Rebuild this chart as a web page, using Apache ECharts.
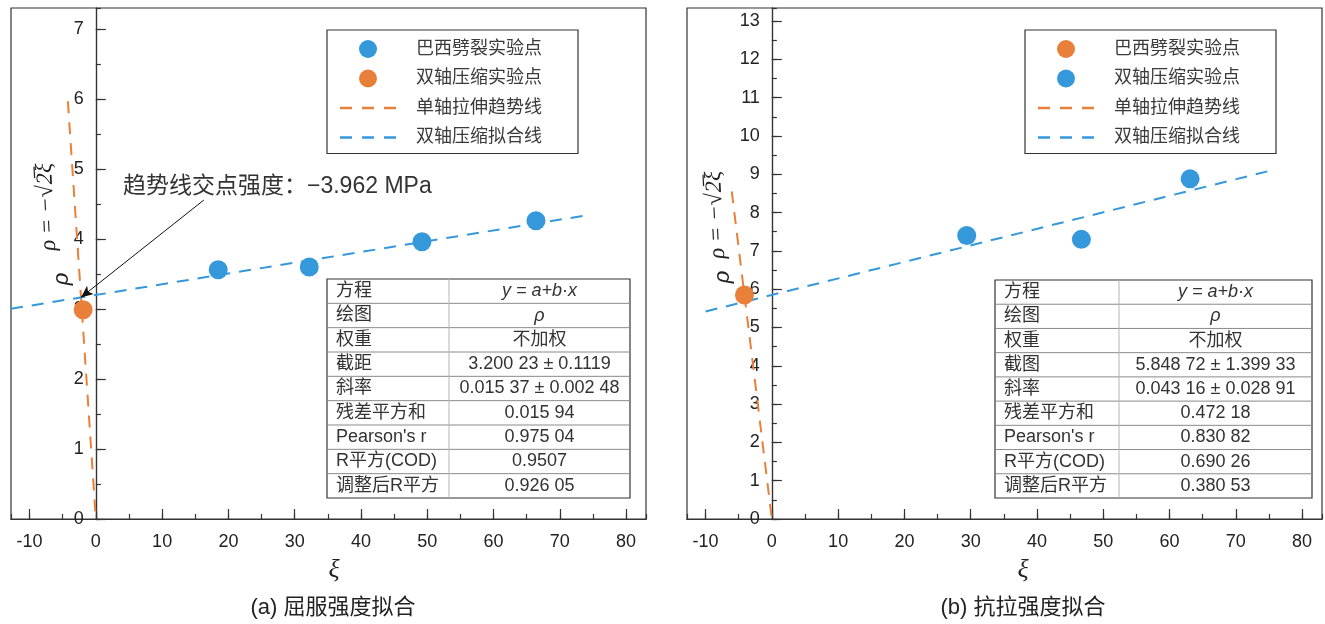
<!DOCTYPE html>
<html>
<head>
<meta charset="utf-8">
<script src="https://cdn.jsdelivr.net/npm/echarts@6/dist/echarts.min.js"></script>
<style>
  html, body { margin: 0; padding: 0; background: #fff; }
  #chart { width: 1325px; height: 624px; }
</style>
</head>
<body>
<div id="chart"></div>
<script>
// ---------- panel (a): yield strength ----------
const brazilA = [[18.46, 3.56], [32.2, 3.60], [49.2, 3.96], [66.4, 4.26]];
const biaxA = [[-1.92, 2.99]];
const fitA = { a: 3.20023, b: 0.01537 };          // intercept, slope of the biaxial fit
const fitRangeA = [-12.8, 73.5];
const trendRangeA = [-4.22, 0];
const arrowStartA = [16.3, 4.557];
const noteA = '趋势线交点强度：−3.962 MPa';

// ---------- panel (b): tensile strength ----------
const brazilB = [[-4.13, 5.85]];
const biaxB = [[29.4, 7.40], [46.7, 7.30], [63.1, 8.88]];
const fitB = { a: 5.84872, b: 0.04316 };
const fitRangeB = [-10, 75];
const trendRangeB = [-6.05, 0];

// ---------- axes ----------
const xRange = [-12.8, 83];
const yRangeA = [0, 7.3];
const yRangeB = [0, 13.34];

// ---------- legend / tables / captions ----------
const legendNames = ['巴西劈裂实验点', '双轴压缩实验点', '单轴拉伸趋势线', '双轴压缩拟合线'];
const tableLabelsA = ['方程', '绘图', '权重', '截距', '斜率', '残差平方和', "Pearson's r", 'R平方(COD)', '调整后R平方'];
const tableValuesA = ['y = a+b·x', 'ρ', '不加权', '3.200 23 ± 0.1119', '0.015 37 ± 0.002 48', '0.015 94', '0.975 04', '0.9507', '0.926 05'];
const tableLabelsB = ['方程', '绘图', '权重', '截图', '斜率', '残差平方和', "Pearson's r", 'R平方(COD)', '调整后R平方'];
const tableValuesB = ['y = a+b·x', 'ρ', '不加权', '5.848 72 ± 1.399 33', '0.043 16 ± 0.028 91', '0.472 18', '0.830 82', '0.690 26', '0.380 53'];
const captions = ['(a) 屈服强度拟合', '(b) 抗拉强度拟合'];
const axisNameX = 'ξ';
const axisNameY = 'ρ';
const trendLabel = 'ρ = −√2̅ξ';

const BLUE = '#3498db';
const ORANGE = '#e8803a';
const AXIS = '#333';
const FONT = "'Liberation Sans', Arial, 'Noto Sans CJK SC', sans-serif";
const SERIF = "'Liberation Serif', 'DejaVu Serif', serif";
// three-dash glyph used as the legend icon of the dashed lines
const DASH_ICON = 'path://M0,0h12v2.4h-12z M22,0h12v2.4h-12z M44,0h12v2.4h-12z';

const fitLine = (fit, range) => range.map(x => [x, fit.a + fit.b * x]);
const trendLine = range => range.map(x => [x, -Math.SQRT2 * x]);
// crossing point of the uniaxial trend line and the biaxial fit
const crossing = fit => { const x = -fit.a / (fit.b + Math.SQRT2); return [x, fit.a + fit.b * x]; };

const chart = echarts.init(document.getElementById('chart'));

const plotGrid = left => ({ left, top: 8, width: 635, height: 511, show: true, borderColor: AXIS, borderWidth: 1.2,
                            containLabel: false, outerBoundsMode: 'none' });
// narrow grid whose left edge sits on the ξ = 0 line; it carries the ρ scale
const rulerGrid = left => ({ left, top: 8, width: 10, height: 511, show: false, containLabel: false, outerBoundsMode: 'none' });

function xAxes(gridIndex) {
  const base = {
    type: 'value', gridIndex, min: xRange[0], max: xRange[1], position: 'bottom',
    axisLine: { onZero: false, lineStyle: { color: AXIS, width: 1.2 } },
    splitLine: { show: false }
  };
  return [
    Object.assign({}, base, {
      splitNumber: 9,
      axisTick: { inside: true, length: 10, lineStyle: { color: AXIS, width: 1.2 } },
      axisLabel: { color: '#222', fontSize: 18, fontFamily: FONT, margin: 14, showMinLabel: false, showMaxLabel: false }
    }),
    Object.assign({}, base, {
      splitNumber: 19,
      axisTick: { inside: true, length: 5, lineStyle: { color: AXIS, width: 1.2 } },
      axisLabel: { show: false }
    })
  ];
}

const hiddenX = gridIndex => ({ type: 'value', gridIndex, min: 0, max: 1, show: false });
const dataY = (gridIndex, range) => ({ type: 'value', gridIndex, min: range[0], max: range[1], show: false });

function rulerY(gridIndex, range) {
  const base = {
    type: 'value', gridIndex, min: range[0], max: range[1], position: 'left',
    axisLine: { onZero: false, lineStyle: { color: AXIS, width: 1.2 } },
    splitLine: { show: false }
  };
  return [
    Object.assign({}, base, {
      interval: 1,
      axisTick: { inside: true, length: 10, lineStyle: { color: AXIS, width: 1.2 } },
      axisLabel: { color: '#222', fontSize: 18, fontFamily: FONT, margin: 12, showMaxLabel: false }
    }),
    Object.assign({}, base, {
      interval: 0.5,
      axisTick: { inside: true, length: 5, lineStyle: { color: AXIS, width: 1.2 } },
      axisLabel: { show: false }
    })
  ];
}

function scatter(name, data, color, xi, yi) {
  return {
    type: 'scatter', name, data, xAxisIndex: xi, yAxisIndex: yi, z: 4,
    symbol: 'circle', symbolSize: 19, itemStyle: { color, opacity: 1 }, silent: true
  };
}

function dashed(name, data, color, xi, yi, extra) {
  return Object.assign({
    type: 'line', name, data, xAxisIndex: xi, yAxisIndex: yi, z: 3,
    symbol: 'none', showSymbol: false, silent: true,
    lineStyle: { color, width: 2, type: [12, 9] }, itemStyle: { color }
  }, extra || {});
}

function legend(left, colors) {
  return {
    left, top: 30, orient: 'vertical', selectedMode: false,
    itemWidth: 56, itemHeight: 18, itemGap: 11.5,
    padding: [10, 36, 7, 13],
    borderColor: AXIS, borderWidth: 1.2, backgroundColor: '#fff',
    textStyle: { fontSize: 18, color: '#3a3a3a', fontFamily: FONT, padding: [0, 0, 0, 15] },
    data: legendNames.map((name, i) => ({
      name,
      icon: i < 2 ? 'circle' : DASH_ICON,
      itemStyle: { color: colors[i], borderWidth: 0 }
    }))
  };
}

function table(x0, xDiv, x1, y0, y1, labels, values) {
  const els = [];
  const rh = (y1 - y0) / labels.length;
  els.push({ type: 'rect', shape: { x: x0, y: y0, width: x1 - x0, height: y1 - y0 },
             style: { fill: '#fff', stroke: AXIS, lineWidth: 1.2 }, z: 10 });
  for (let i = 1; i < labels.length; i++) {
    els.push({ type: 'line', shape: { x1: x0, y1: y0 + i * rh, x2: x1, y2: y0 + i * rh },
               style: { stroke: '#8a8a8a', lineWidth: 1 }, z: 11 });
  }
  els.push({ type: 'line', shape: { x1: xDiv, y1: y0, x2: xDiv, y2: y1 },
             style: { stroke: '#b5b5b5', lineWidth: 1 }, z: 11 });
  labels.forEach((t, i) => {
    const cy = y0 + (i + 0.5) * rh;
    els.push({ type: 'text', x: x0 + 9, y: cy, z: 12,
               style: { text: t, font: '18px ' + FONT, fill: '#333', verticalAlign: 'middle' } });
    const italic = i < 2;
    els.push({ type: 'text', x: (xDiv + x1) / 2, y: cy, z: 12,
               style: { text: values[i], font: (italic ? 'italic ' : '') + '18px ' + FONT, fill: '#333',
                        align: 'center', verticalAlign: 'middle' } });
  });
  return els;
}

function text(x, y, t, font, extra) {
  return Object.assign({ type: 'text', x, y, z: 12,
    style: { text: t, font, fill: '#222', align: 'center', verticalAlign: 'middle' } }, extra || {});
}

const graphics = []
  .concat(table(327, 449, 630, 279, 498, tableLabelsA, tableValuesA))
  .concat(table(995, 1119, 1312, 280, 498, tableLabelsB, tableValuesB))
  .concat([
    text(62, 279, axisNameY, 'italic 22px ' + FONT, { rotation: Math.PI / 2 }),
    text(723, 277, axisNameY, 'italic 22px ' + FONT, { rotation: Math.PI / 2 }),
    text(47, 207, trendLabel, 'italic 23px ' + SERIF, { rotation: Math.PI / 2 + 0.05 }),
    text(716, 215, trendLabel, 'italic 23px ' + SERIF, { rotation: Math.PI / 2 + 0.05 }),
    text(334, 570, axisNameX, 'italic 26px ' + SERIF),
    text(1023, 570, axisNameX, 'italic 26px ' + SERIF),
    text(333, 608, captions[0], '22px ' + FONT),
    text(1023, 608, captions[1], '22px ' + FONT),
    { type: 'text', x: 123, y: 187, z: 12,
      style: { text: noteA, font: '23px ' + FONT, fill: '#333', verticalAlign: 'middle' } }
  ]);

// axis order: x -> [a major, a minor, b major, b minor, ruler a, ruler b]
//             y -> [a data, b data, ruler a major, ruler a minor, ruler b major, ruler b minor]
chart.setOption({
  animation: false,
  backgroundColor: '#fff',
  grid: [plotGrid(11), plotGrid(687), rulerGrid(96), rulerGrid(772)],
  xAxis: xAxes(0).concat(xAxes(1), [hiddenX(2), hiddenX(3)]),
  yAxis: [dataY(0, yRangeA), dataY(1, yRangeB)].concat(rulerY(2, yRangeA), rulerY(3, yRangeB)),
  legend: [legend(327, [BLUE, ORANGE, ORANGE, BLUE]), legend(1025, [ORANGE, BLUE, ORANGE, BLUE])],
  series: [
    scatter(legendNames[0], brazilA, BLUE, 0, 0),
    scatter(legendNames[1], biaxA, ORANGE, 0, 0),
    dashed(legendNames[2], trendLine(trendRangeA), ORANGE, 0, 0),
    dashed(legendNames[3], fitLine(fitA, fitRangeA), BLUE, 0, 0, {
      markLine: {
        silent: true, animation: false,
        symbol: ['none', 'arrow'], symbolSize: [8, 12],
        label: { show: false },
        lineStyle: { color: '#111', width: 1, type: 'solid' },
        itemStyle: { color: '#111' },
        data: [[{ coord: arrowStartA }, { coord: crossing(fitA) }]]
      }
    }),
    scatter(legendNames[0], brazilB, ORANGE, 2, 1),
    scatter(legendNames[1], biaxB, BLUE, 2, 1),
    dashed(legendNames[2], trendLine(trendRangeB), ORANGE, 2, 1),
    dashed(legendNames[3], fitLine(fitB, fitRangeB), BLUE, 2, 1)
  ],
  graphic: graphics
});

// put each ρ ruler exactly on the ξ = 0 line of its plot
const zeroA = chart.convertToPixel({ xAxisIndex: 0 }, 0);
const zeroB = chart.convertToPixel({ xAxisIndex: 2 }, 0);
chart.setOption({ grid: [{}, {}, { left: zeroA }, { left: zeroB }] });
</script>
</body>
</html>
